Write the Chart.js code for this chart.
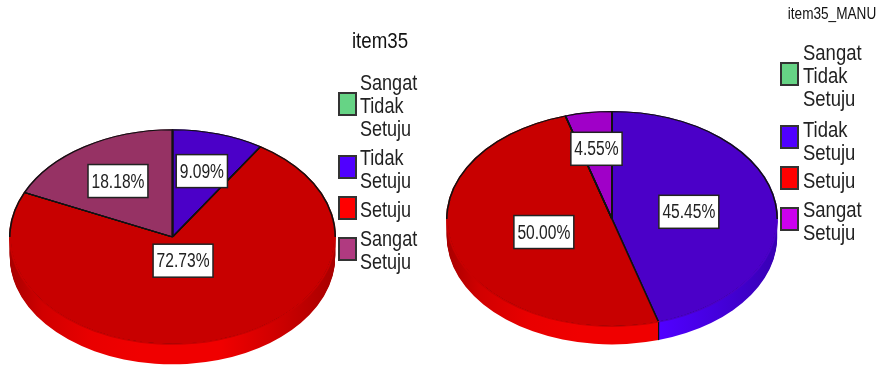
<!DOCTYPE html>
<html><head><meta charset="utf-8">
<style>
html,body{margin:0;padding:0;background:#fff;width:877px;height:365px;overflow:hidden}
canvas{position:absolute;top:0;left:0;filter:blur(0.45px)}
</style>
<script src="https://cdn.jsdelivr.net/npm/chart.js@4"></script>
</head><body>
<div style="position:absolute;left:0;top:0;width:438px;height:365px"><canvas id="a"></canvas></div>
<div style="position:absolute;left:438px;top:0;width:439px;height:365px"><canvas id="b"></canvas></div>
<script>
const categories = ["Sangat Tidak Setuju", "Tidak Setuju", "Setuju", "Sangat Setuju"];
const legendLines = [["Sangat","Tidak","Setuju"],["Tidak","Setuju"],["Setuju"],["Sangat","Setuju"]];
const item35 = [0, 9.09, 72.73, 18.18];
const item35Manu = [0, 45.45, 50.00, 4.55];
const faceA = ["#66cc80","#4b00c8","#c80000","#963264"];
const faceB = ["#66cc80","#4b00c8","#c80000","#a000c8"];
const rimA = ["#66cc80","#5000ff","#f00000","#b03a80"];
const rimB = ["#66cc80","#5000ff","#f00000","#cc00ee"];
const swatchA = ["#66d485","#5000ff","#ff0000","#b03a80"];
const swatchB = ["#66d485","#5000ff","#ff0000","#cc00ee"];

function squeezed(ctx,t,x,y,sx){
  ctx.save(); ctx.translate(x,y); ctx.scale(sx,1); ctx.fillText(t,0,0); ctx.restore();
}
function item(o,i){return o.data[i]>0;}
function shade(hex,f){
  const n=parseInt(hex.slice(1),16);
  return 'rgb('+[(n>>16)&255,(n>>8)&255,n&255].map(v=>Math.round(v*f)).join(',')+')';
}
function withOptions(el,over,fn){
  const saved = el.options;
  el.options = Object.assign(Object.create(saved),over);
  fn();
  el.options = saved;
}
function pie3d(id, o){
  const cv = document.getElementById(id);
  const plugin = {
    id:'pie3d',
    beforeDatasetsDraw(chart){
      const ctx = chart.ctx, meta = chart.getDatasetMeta(0), a = chart.chartArea;
      const cy = (a.top+a.bottom)/2;
      ctx.save();
      ctx.translate(0, o.cy);
      ctx.scale(1, o.ky);
      ctx.translate(0, -cy);
      for(let d=o.depth; d>=1; d--){
        ctx.save();
        ctx.translate(0, d/o.ky);
        meta.data.forEach((el,i)=>{
          if(!item(o,i)) return;
          const g = ctx.createLinearGradient(el.x-el.outerRadius,0,el.x+el.outerRadius,0);
          [[0,.7],[.1,.87],[.25,.97],[.4,1],[.65,1],[.8,.88],[1,.7]].forEach(s=>g.addColorStop(s[0],shade(o.rim[i],s[1])));
          withOptions(el,{backgroundColor:g,borderWidth:0,borderColor:g},()=>el.draw(ctx));
        });
        ctx.restore();
      }
    },
    afterDatasetsDraw(chart){
      const ctx = chart.ctx, meta = chart.getDatasetMeta(0), a = chart.chartArea;
      const cy = (a.top+a.bottom)/2;
      // black outline on the far half of the top face only
      ctx.save();
      ctx.beginPath(); ctx.rect(0,0,chart.width,cy); ctx.clip();
      meta.data.forEach((el,i)=>{
        if(!item(o,i)) return;
        withOptions(el,{backgroundColor:'rgba(0,0,0,0)',borderColor:'#111',borderWidth:1.6},()=>el.draw(ctx));
      });
      ctx.restore();
      ctx.restore();
      ctx.save();
      // slice boundaries running down the visible rim
      ctx.strokeStyle='#111'; ctx.lineWidth=1.2;
      meta.data.forEach((el,i)=>{
        if(!item(o,i)) return;
        const s = Math.sin(el.startAngle);
        if(s<=0.05) return;
        const x = el.x+Math.cos(el.startAngle)*el.outerRadius;
        const y = o.cy+s*el.outerRadius*o.ky;
        ctx.beginPath(); ctx.moveTo(x,y); ctx.lineTo(x,y+o.depth); ctx.stroke();
      });
      ctx.font = '20px "Liberation Sans",sans-serif';
      ctx.textBaseline='middle'; ctx.textAlign='center';
      meta.data.forEach((el,i)=>{
        if(!item(o,i)) return;
        const mid = (el.startAngle+el.endAngle)/2;
        const r = el.outerRadius*o.ratio[i];
        const x = el.x + Math.cos(mid)*r;
        const y = o.cy + Math.sin(mid)*r*o.ky;
        const t = o.data[i].toFixed(2)+'%';
        const w = ctx.measureText(t).width*.78+7, h=33;
        ctx.fillStyle='#fff'; ctx.fillRect(x-w/2,y-h/2,w,h);
        ctx.strokeStyle='#222'; ctx.lineWidth=1.5; ctx.strokeRect(x-w/2,y-h/2,w,h);
        ctx.fillStyle='#222'; squeezed(ctx,t,x,y+1,.78);
      });
      ctx.font = o.titleFont; ctx.fillStyle='#111';
      squeezed(ctx,o.title,o.titleX,o.titleY,o.titleSx);
      ctx.font = '22px "Liberation Sans",sans-serif';
      ctx.textAlign='left';
      legendLines.forEach((ls,i)=>{
        const sy = o.swatchY[i];
        ctx.fillStyle=o.swatch[i]; ctx.fillRect(o.legendX,sy,17,22);
        ctx.strokeStyle='#333'; ctx.lineWidth=2; ctx.strokeRect(o.legendX,sy,17,22);
        ctx.fillStyle='#222';
        ls.forEach((t,j)=>squeezed(ctx,t,o.legendX+o.textGap,o.textY[i]+j*23,o.textSx));
      });
      ctx.restore();
    }
  };
  const spoke = (c)=>{
    const a = c.chart.chartArea;
    if(!a || c.dataIndex===undefined) return '#111';
    const cx=(a.left+a.right)/2, cy=(a.top+a.bottom)/2, R=Math.min(a.right-a.left,a.bottom-a.top)/2;
    const g = c.chart.ctx.createRadialGradient(cx,cy,0,cx,cy,R);
    g.addColorStop(0,'#111'); g.addColorStop(.985,'#111');
    g.addColorStop(.99,o.face[c.dataIndex]); g.addColorStop(1,o.face[c.dataIndex]);
    return g;
  };
  new Chart(cv,{
    type:'pie',
    data:{labels:categories,datasets:[{data:o.data,backgroundColor:o.face,borderColor:spoke,borderWidth:1.6}]},
    options:{responsive:true,maintainAspectRatio:false,animation:false,rotation:0,
      layout:{padding:o.padding},
      plugins:{legend:{display:false},title:{display:false},tooltip:{enabled:false}}},
    plugins:[plugin]
  });
}
pie3d('a',{data:item35,face:faceA,rim:rimA,swatch:swatchA,cy:237,ky:107.5/163,depth:20,
  ratio:[0,.64,.23,.62],padding:{left:9,right:102,top:19,bottom:19},
  title:'item35',titleX:380,titleY:42,titleSx:.85,titleFont:'22px "Liberation Sans",sans-serif',
  legendX:339,textGap:21,textSx:.82,swatchY:[93,156,197,238],textY:[84,159,211,240]});
pie3d('b',{data:item35Manu,face:faceB,rim:rimB,swatch:swatchB,cy:219,ky:108/166,depth:18,
  ratio:[0,.47,.43,.66],padding:{left:8,right:99,top:16,bottom:16},
  title:'item35_MANU',titleX:394,titleY:15,titleSx:.85,titleFont:'16px "Liberation Sans",sans-serif',
  legendX:343,textGap:22,textSx:.84,swatchY:[63,126,167,208],textY:[54,131,182,211]});
</script>
</body></html>
